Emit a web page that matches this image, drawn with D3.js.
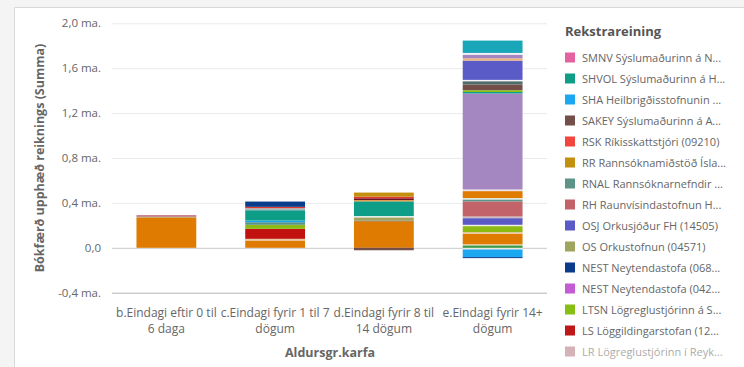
<!DOCTYPE html>
<html><head><meta charset="utf-8">
<script src="https://cdn.jsdelivr.net/npm/d3@7"></script>
<style>
html,body{margin:0;padding:0;background:#fff;}
svg{display:block;font-family:"Segoe UI","Open Sans","Noto Sans",sans-serif;}
</style></head>
<body><svg id="chart" width="744" height="367"></svg>
<script>
// ---- data ----
const categories = ["b.Eindagi eftir 0 til 6 daga","c.Eindagi fyrir 1 til 7 dögum","d.Eindagi fyrir 8 til 14 dögum","e.Eindagi fyrir 14+ dögum"];
const categoryLines = [["b.Eindagi eftir 0 til","6 daga"],["c.Eindagi fyrir 1 til 7","dögum"],["d.Eindagi fyrir 8 til","14 dögum"],["e.Eindagi fyrir 14+","dögum"]];
const yTicks = [-0.4, 0, 0.4, 0.8, 1.2, 1.6, 2.0];
const yTickLabels = ["-0,4 ma.","0,0","0,4 ma.","0,8 ma.","1,2 ma.","1,6 ma.","2,0 ma."];
// stacking order, bottom first (values in milljarðar kr, one per category)
const seriesKeys = ["x0","x1","x2","x3","x4","x5","LS","LTSN","x8","OSJ","x10","RH","OS","RNAL","SHA","x15","x16","x17","x18","SHVOL","x20","x21","x22","RSK","NEST068","RR","x26","SAKEY","x28","x29","x30","x31","x32","x33","x34","LR","SMNV","NEST042"];
const seriesColors = ["#EFE8E0","#3A9A48","#EEDFCB","#DF7B00","#E7C8A0","#6B4538","#C1120F","#8CBA12","#F2ECE4","#5B5BC8","#C8BDBE","#C2636A","#9FA45E","#5E9488","#1CA8F0","#E8EEE8","#DF7B00","#EDE0E8","#A487C0","#0E9E88","#A9B9BC","#E79A4A","#6A0F1E","#E0392C","#0B3B8B","#C2900E","#8CC21A","#744E48","#4F6B6A","#F7F4F8","#5B5BC8","#F0B47A","#A487C0","#F3F1F6","#19A6B8","#C9848E","#E3629F","#C35BD4"];
const seriesValues = [
  [0,0,0,-0.015],
  [0,0,0,0.022],
  [0,0,0,0.009],
  [0.270,0.065,0.236,0.095],
  [0,0.015,0,0.014],
  [0,0,0.006,0],
  [0,0.089,0,0],
  [0,0.036,0,0.053],
  [0,0,0,0.012],
  [0,0,0,0.059],
  [0,0,0,0.015],
  [0,0,0,0.134],
  [0.005,0,0.029,0],
  [0,0.023,0,0.018],
  [0,0.015,0,-0.068],
  [0,0,0.012,0.012],
  [0,0,0,0.062],
  [0,0,0,0.015],
  [0,0,0,0.855],
  [0,0.092,0.131,0.013],
  [0,0.018,0,0],
  [0,0,0.012,0],
  [0,0,0.015,0],
  [0,0.012,0.015,0],
  [0,0.047,0,-0.009],
  [0,0,0.036,0],
  [0,0,0,0.016],
  [0,0,-0.022,0.051],
  [0,0,0,0.029],
  [0,0,0,0.012],
  [0,0,0,0.172],
  [0,0,0,0.020],
  [0,0,0,0.033],
  [0,0,0,0.015],
  [0,0,0,0.110],
  [0.017,0,0,0],
  [0,0,0,0],
  [0,0,0,0]
];
const legendTitle = "Rekstrareining";
const legendKeys = ["SMNV","SHVOL","SHA","SAKEY","RSK","RR","RNAL","RH","OSJ","OS","NEST068","NEST042","LTSN","LS","LR"];
const legendLabels = ["SMNV Sýslumaðurinn á N...","SHVOL Sýslumaðurinn á H...","SHA Heilbrigðisstofnunin ...","SAKEY Sýslumaðurinn á A...","RSK Ríkisskattstjóri (09210)","RR Rannsóknamiðstöð Ísla...","RNAL Rannsóknarnefndir ...","RH Raunvísindastofnun H...","OSJ Orkusjóður FH (14505)","OS Orkustofnun (04571)","NEST Neytendastofa (068...","NEST Neytendastofa (042...","LTSN Lögreglustjórinn á S...","LS Löggildingarstofan (12...","LR Lögreglustjórinn í Reyk..."];
const legendColors = ["#E3629F","#0E9E88","#1CA8F0","#744E48","#F2453D","#C2900E","#5E9488","#C2636A","#5B5BC8","#9FA45E","#0B3B8B","#C35BD4","#86BE14","#BE1818","#B3747E"];
const yTitle = "Bókfærð upphæð reiknings (Summa)";
const xTitle = "Aldursgr.karfa";

// ---- drawing ----
const svg = d3.select("#chart");
svg.append("rect").attr("width",744).attr("height",367).attr("fill","#F4F4F4");
svg.append("rect").attr("x",14.5).attr("y",7.5).attr("width",740).attr("height",370)
  .attr("fill","#fff").attr("stroke","#D9D9D9");

const plot = {left:112, right:547, top:23.3, bottom:292.7};
const x = d3.scaleBand().domain(categories).range([plot.left, plot.right]).paddingInner(0.45).paddingOuter(0.225);
const y = d3.scaleLinear().domain([-0.4, 2.0]).range([plot.bottom, plot.top]);

const yAxis = d3.axisLeft(y).tickValues(yTicks).tickSize(-(plot.right-plot.left))
  .tickFormat((d,i)=>yTickLabels[i]).tickPadding(12);
const gy = svg.append("g").attr("transform",`translate(${plot.left},0)`).call(yAxis);
gy.select(".domain").remove();
gy.selectAll(".tick line").attr("stroke",d=> d===0 ? "#C8C8C8" : (d===-0.4 ? "#B4B4B4":"#EAEAEA")).attr("stroke-width",1);
gy.selectAll(".tick text").attr("fill","#666").style("font-size","11.5px")
  .style("font-family",'"Segoe UI","Open Sans",sans-serif').attr("x",-11);

const rows = categories.map((c,ci)=>{const o={cat:c}; seriesKeys.forEach((k,si)=>o[k]=seriesValues[si][ci]); return o;});
const stack = d3.stack().keys(seriesKeys).offset(d3.stackOffsetDiverging)(rows);
const color = d3.scaleOrdinal().domain(seriesKeys).range(seriesColors);
const g = svg.append("g");
stack.forEach(layer=>{
  g.selectAll(null).data(layer.filter(d=>d[1]!==d[0])).enter().append("rect")
    .attr("x",d=>x(d.data.cat)).attr("width",x.bandwidth())
    .attr("y",d=>y(Math.max(d[0],d[1])))
    .attr("height",d=>Math.abs(y(d[0])-y(d[1])))
    .attr("fill",color(layer.key));
});

const xl = svg.append("g").attr("fill","#666").style("font-size","12px");
categories.forEach((c,i)=>{
  const cx = x(c)+x.bandwidth()/2;
  const t = xl.append("text").attr("text-anchor","middle").attr("x",cx).attr("y",317);
  categoryLines[i].forEach((ln,j)=>t.append("tspan").attr("x",cx).attr("dy",j?16:0).text(ln));
});
svg.append("text").attr("x",330).attr("y",357).attr("text-anchor","middle").attr("fill","#666")
  .style("font-size","12.5px").style("font-weight","bold").text(xTitle);
svg.append("text").attr("transform","translate(44,158) rotate(-90)").attr("text-anchor","middle").attr("fill","#666")
  .style("font-size","12.5px").style("font-weight","bold").text(yTitle);

const lg = svg.append("g");
lg.append("text").attr("x",565).attr("y",36).attr("fill","#555").style("font-size","13px").style("font-weight","bold").text(legendTitle);
legendKeys.forEach((k,i)=>{
  const yy = 57.5 + i*21;
  const it = lg.append("g").attr("opacity", i===legendKeys.length-1 ? 0.55 : 1);
  it.append("rect").attr("x",565).attr("y",yy-5).attr("width",10).attr("height",10).attr("fill",legendColors[i]);
  it.append("text").attr("x",582).attr("y",yy+4).attr("fill","#666").style("font-size","11px").text(legendLabels[i]);
});
</script></body></html>
